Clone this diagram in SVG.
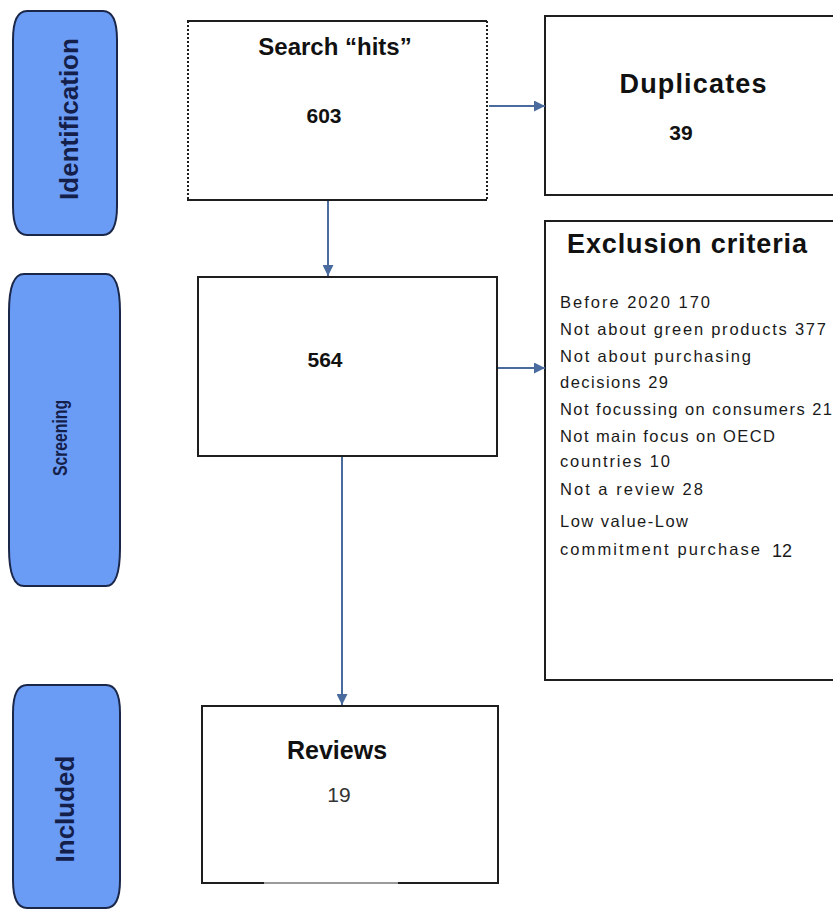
<svg xmlns="http://www.w3.org/2000/svg" width="833" height="910" viewBox="0 0 833 910">
<style>
.pill{fill:#6a9cf6;stroke:#1b2748;stroke-width:2}
.plabel{font-family:"Liberation Sans",Arial,sans-serif;font-weight:bold;fill:#15204a}
.box{fill:#ffffff;stroke:#1e1e1e;stroke-width:2}
.title{font-family:"Liberation Sans",Arial,sans-serif;font-weight:bold;fill:#111111;text-anchor:middle}
.num{font-family:"Liberation Sans",Arial,sans-serif;font-weight:bold;fill:#111111;text-anchor:middle;font-size:21px}
.item{font-family:"Liberation Sans",Arial,sans-serif;font-size:16.5px;fill:#1a1a1a}
.conn{stroke:#4a6b9e;stroke-width:2;fill:none}
</style>
<defs>
<marker id="ah" viewBox="0 0 10 10" refX="10" refY="5" markerWidth="5.5" markerHeight="5.5" orient="auto" markerUnits="strokeWidth">
<path d="M0,0 L10,5 L0,10 z" fill="#4a6b9e"/>
</marker>
</defs>
<rect width="833" height="910" fill="#ffffff"/>

<g id="stage-identification">
<path class="pill" d="M27,11 H103 Q117,11 117,40 V206 Q117,235 103,235 H27 Q13,235 13,206 V40 Q13,11 27,11 Z"/>
<text class="plabel" font-size="26" text-anchor="middle" transform="translate(78,119) rotate(-90)">Identification</text>
</g>

<g id="stage-screening">
<path class="pill" d="M24,274 H106 Q120,274 120,312 V548 Q120,586 106,586 H24 Q9,586 9,548 V312 Q9,274 24,274 Z"/>
<text class="plabel" font-size="20" text-anchor="middle" textLength="76" lengthAdjust="spacingAndGlyphs" transform="translate(67,438) rotate(-90)">Screening</text>
</g>

<g id="stage-included">
<path class="pill" d="M27,685 H106 Q120,685 120,713 V880 Q120,908 106,908 H27 Q13,908 13,880 V713 Q13,685 27,685 Z"/>
<text class="plabel" font-size="26" text-anchor="middle" transform="translate(74,809) rotate(-90)">Included</text>
</g>

<g id="search-hits">
<rect x="187" y="21" width="300" height="179" fill="#ffffff" stroke="none"/>
<line x1="187" y1="21" x2="487" y2="21" stroke="#1e1e1e" stroke-width="2"/>
<line x1="187" y1="200" x2="487" y2="200" stroke="#1e1e1e" stroke-width="2"/>
<line x1="188" y1="21" x2="188" y2="200" stroke="#1e1e1e" stroke-width="2" stroke-dasharray="2,2"/>
<line x1="487" y1="21" x2="487" y2="200" stroke="#1e1e1e" stroke-width="2" stroke-dasharray="2,2"/>
<text class="title" x="335" y="55" font-size="24">Search “hits”</text>
<text class="num" x="324" y="123">603</text>
</g>

<g id="duplicates">
<rect class="box" x="545" y="16" width="300" height="179"/>
<text class="title" x="693" y="93" font-size="27" textLength="147">Duplicates</text>
<text class="num" x="681" y="140">39</text>
</g>

<g id="screened">
<rect class="box" x="198" y="277" width="299" height="179"/>
<text class="num" x="325" y="367">564</text>
</g>

<g id="exclusion-criteria">
<rect class="box" x="545" y="221" width="300" height="459"/>
<text x="567" y="253" font-family="Liberation Sans, Arial, sans-serif" font-weight="bold" font-size="27" fill="#111111" textLength="240">Exclusion criteria</text>
<text class="item" x="560" y="308" textLength="150">Before 2020  170</text>
<text class="item" x="560" y="335" textLength="266">Not about green products 377</text>
<text class="item" x="560" y="362" textLength="191">Not about purchasing</text>
<text class="item" x="560" y="388" textLength="108">decisions 29</text>
<text class="item" x="560" y="415" textLength="272">Not focussing on consumers 21</text>
<text class="item" x="560" y="442" textLength="215">Not main focus on OECD</text>
<text class="item" x="560" y="467" textLength="110">countries 10</text>
<text class="item" x="560" y="495" textLength="143">Not a review  28</text>
<text class="item" x="560" y="527" textLength="128">Low value-Low</text>
<text class="item" x="560" y="555" textLength="200">commitment purchase</text>
<text x="772" y="557" font-family="Liberation Sans, Arial, sans-serif" font-size="18" fill="#1a1a1a">12</text>
</g>

<g id="reviews">
<rect class="box" x="202" y="706" width="296" height="177"/>
<line x1="264" y1="883" x2="398" y2="883" stroke="#9a9a9a" stroke-width="2"/>
<text class="title" x="337" y="759" font-size="25">Reviews</text>
<text x="339" y="802" font-family="Liberation Sans, Arial, sans-serif" font-size="21" fill="#333333" text-anchor="middle">19</text>
</g>

<g id="connectors">
<line class="conn" x1="328" y1="201" x2="328" y2="276" marker-end="url(#ah)"/>
<line class="conn" x1="489" y1="106" x2="545" y2="106" marker-end="url(#ah)"/>
<line class="conn" x1="498" y1="368" x2="545" y2="368" marker-end="url(#ah)"/>
<line class="conn" x1="342" y1="457" x2="342" y2="705" marker-end="url(#ah)"/>
</g>
</svg>
